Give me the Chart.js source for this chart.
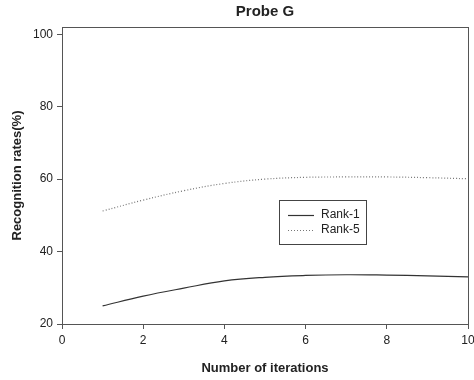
<!DOCTYPE html>
<html>
<head>
<meta charset="utf-8">
<script src="https://cdn.jsdelivr.net/npm/chart.js@4/dist/chart.umd.min.js"></script>
<style>
  html, body { margin: 0; padding: 0; background: #fff; }
  #wrap { width: 474px; height: 380px; }
</style>
</head>
<body>
<div id="wrap"><canvas id="c" width="474" height="380"></canvas></div>
<script>
// Recognition rate per iteration count
const iterations = [1, 2, 3, 4, 5, 6, 7, 8, 9, 10];
const rank1 = [25.0, 27.7, 29.9, 31.9, 32.9, 33.4, 33.6, 33.5, 33.3, 33.0];
const rank5 = [51.2, 54.2, 56.8, 58.8, 60.0, 60.5, 60.6, 60.6, 60.4, 60.1];
const seriesNames = ['Rank-1', 'Rank-5'];
const xTicks = [0, 2, 4, 6, 8, 10];
const yTicks = [20, 40, 60, 80, 100];

const FONT = '"Liberation Sans", Arial, sans-serif';
const INK = '#222';
const AXIS = '#555';

// Full frame around the plot area plus a boxed legend inside it
const framePlugin = {
  id: 'frame',
  afterDraw(chart) {
    const { ctx, chartArea: a } = chart;
    ctx.save();
    ctx.strokeStyle = AXIS;
    ctx.lineWidth = 1;
    ctx.strokeRect(Math.round(a.left) + 0.5, Math.round(a.top) + 0.5,
      Math.round(a.right - a.left), Math.round(a.bottom - a.top));

    // legend box
    const bx = a.left + 217, by = a.top + 173, bw = 87, bh = 44;
    ctx.fillStyle = '#fff';
    ctx.fillRect(bx, by, bw, bh);
    ctx.strokeStyle = '#444';
    ctx.strokeRect(bx + 0.5, by + 0.5, bw, bh);
    ctx.font = '12px ' + FONT;
    ctx.textBaseline = 'middle';
    chart.data.datasets.forEach((ds, i) => {
      const y = by + 15 + i * 15;
      ctx.beginPath();
      ctx.strokeStyle = ds.borderColor;
      ctx.lineWidth = ds.borderWidth;
      ctx.setLineDash(ds.borderDash || []);
      ctx.moveTo(bx + 9, y + 0.5);
      ctx.lineTo(bx + 35, y + 0.5);
      ctx.stroke();
      ctx.setLineDash([]);
      ctx.fillStyle = INK;
      ctx.fillText(ds.label, bx + 42, y);
    });
    ctx.restore();
  }
};

const titlePlugin = {
  id: 'topTitle',
  afterDraw(chart) {
    const { ctx, chartArea: a } = chart;
    ctx.save();
    ctx.font = 'bold 15px ' + FONT;
    ctx.fillStyle = INK;
    ctx.textAlign = 'center';
    ctx.textBaseline = 'middle';
    ctx.fillText('Probe G', (a.left + a.right) / 2, 12);
    ctx.restore();
  }
};

new Chart(document.getElementById('c'), {
  type: 'line',
  data: {
    datasets: [
      {
        label: seriesNames[0],
        data: iterations.map((x, i) => ({ x, y: rank1[i] })),
        borderColor: '#333',
        borderWidth: 1.2,
        pointRadius: 0,
        fill: false,
        tension: 0.4
      },
      {
        label: seriesNames[1],
        data: iterations.map((x, i) => ({ x, y: rank5[i] })),
        borderColor: '#777',
        borderWidth: 1.2,
        borderDash: [1, 2],
        pointRadius: 0,
        fill: false,
        tension: 0.4
      }
    ]
  },
  options: {
    responsive: false,
    animation: false,
    layout: { padding: { top: 27, right: 6, left: 0, bottom: 0 } },
    plugins: {
      legend: { display: false },
      tooltip: { enabled: false },
      title: { display: false }
    },
    scales: {
      x: {
        type: 'linear',
        min: 0,
        max: 10,
        afterBuildTicks(s) { s.ticks = xTicks.map(v => ({ value: v })); },
        afterFit(s) { s.height = 56; s.paddingLeft = 0; s.paddingRight = 0; },
        grid: { drawOnChartArea: false, tickLength: 5, color: AXIS },
        border: { color: AXIS },
        ticks: { color: INK, font: { family: FONT, size: 12 }, padding: 4, maxRotation: 0 },
        title: {
          display: true,
          text: 'Number of iterations',
          color: INK,
          font: { family: FONT, size: 13, weight: 'bold' },
          padding: { top: 9 }
        }
      },
      y: {
        min: 20,
        max: 102,
        afterBuildTicks(s) { s.ticks = yTicks.map(v => ({ value: v })); },
        afterFit(s) { s.width = 62; s.paddingTop = 0; s.paddingBottom = 0; },
        grid: { drawOnChartArea: false, tickLength: 5, color: AXIS },
        border: { color: AXIS },
        ticks: { color: INK, font: { family: FONT, size: 12 }, padding: 4 },
        title: {
          display: true,
          text: 'Recognition rates(%)',
          color: INK,
          font: { family: FONT, size: 13, weight: 'bold' },
          padding: { top: 10, bottom: 4 }
        }
      }
    }
  },
  plugins: [framePlugin, titlePlugin]
});
</script>
</body>
</html>
